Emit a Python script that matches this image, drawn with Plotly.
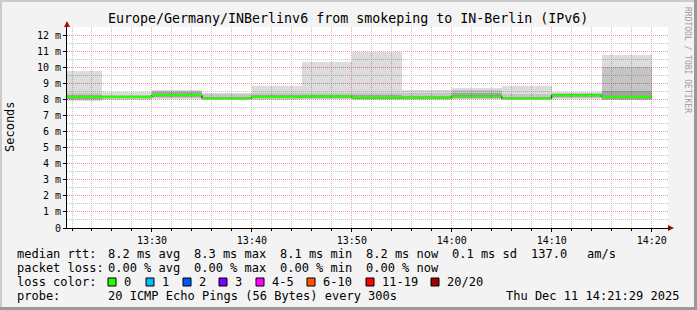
import plotly.graph_objects as go
import pandas as pd

# ---------------- data (milliseconds) ----------------
block_start = ["2025-12-11 13:20:00", "2025-12-11 13:25:00", "2025-12-11 13:30:00",
               "2025-12-11 13:35:00", "2025-12-11 13:40:00", "2025-12-11 13:45:00",
               "2025-12-11 13:50:00", "2025-12-11 13:55:00", "2025-12-11 14:00:00",
               "2025-12-11 14:05:00", "2025-12-11 14:10:00", "2025-12-11 14:15:00"]
step_seconds = 300
median_ms = [8.18, 8.18, 8.29, 8.08, 8.18, 8.21, 8.13, 8.14, 8.22, 8.08, 8.28, 8.18]
ping_max = [9.78, 8.50, 8.60, 8.42, 8.83, 10.34, 10.96, 8.60, 8.73, 8.83, 8.48, 10.82]
ping_min = [7.95, 8.00, 8.05, 8.00, 8.00, 8.02, 8.00, 8.00, 8.02, 8.00, 8.02, 7.98]
mid_hi = [8.45, 8.30, 8.55, 8.33, 8.40, 8.40, 8.40, 8.42, 8.58, 8.38, 8.40, 10.07]
mid_lo = [8.00, 8.05, 8.10, 8.02, 8.02, 8.05, 8.02, 8.02, 8.05, 8.02, 8.08, 8.00]
inner_hi = [8.30, 8.25, 8.50, 8.20, 8.28, 8.30, 8.30, 8.25, 8.45, 8.20, 8.35, 8.54]
inner_lo = [8.05, 8.10, 8.15, 8.03, 8.08, 8.10, 8.05, 8.05, 8.10, 8.03, 8.15, 8.05]

y_tick_vals = [0, 1, 2, 3, 4, 5, 6, 7, 8, 9, 10, 11, 12]
y_tick_text = ["0", "1 m", "2 m", "3 m", "4 m", "5 m", "6 m", "7 m", "8 m", "9 m", "10 m", "11 m", "12 m"]
x_range = ["2025-12-11 13:21:30", "2025-12-11 14:21:38"]
y_range = [0, 12.54]

title = "Europe/Germany/INBerlinv6 from smokeping to IN-Berlin (IPv6)"
rtt_label = "median rtt:"
rtt_values = ["8.2 ms avg", "8.3 ms max", "8.1 ms min", "8.2 ms now", "0.1 ms sd", "137.0", "am/s"]
loss_label = "packet loss:"
loss_values = ["0.00 % avg", "0.00 % max", "0.00 % min", "0.00 % now"]
color_label = "loss color:"
loss_names = ["0", "1", "2", "3", "4-5", "6-10", "11-19", "20/20"]
loss_colors = ["#26ff00", "#00b8ff", "#0059ff", "#7e00ff", "#ff00ff", "#ff5500", "#ff0000", "#a10000"]
probe_label = "probe:"
probe_text = "20 ICMP Echo Pings (56 Bytes) every 300s"
stamp_text = "Thu Dec 11 14:21:29 2025"
watermark = "RRDTOOL / TOBI OETIKER"

# ---------------- geometry helpers ----------------
W, H = 697, 310
L, R, T, B = 67, 668, 27, 228


def px(x):
    return (x - L) / (R - L)


def py(y):
    return (B - y) / (B - T)


starts = pd.to_datetime(block_start)
step = pd.Timedelta(seconds=step_seconds)
ends = starts + step
centers = starts + step / 2
width_ms = step_seconds * 1000

fig = go.Figure()

# smoke bands (semi-transparent so the dotted grid shows through, like rrdtool)
for lo, hi, col in [(ping_min, ping_max, "rgba(0,0,0,0.137)"),
                    (mid_lo, mid_hi, "rgba(0,0,0,0.10)"),
                    (inner_lo, inner_hi, "rgba(0,0,0,0.17)")]:
    fig.add_trace(go.Bar(x=centers, y=[h - l for h, l in zip(hi, lo)], base=lo,
                         width=[width_ms] * len(lo), marker=dict(color=col, line=dict(width=0)),
                         hoverinfo="skip"))

# black step median line
fig.add_trace(go.Scatter(x=list(starts) + [ends[-1]], y=median_ms + [median_ms[-1]],
                         mode="lines", line=dict(color="#000000", width=1, shape="hv"),
                         hoverinfo="skip"))
# green median segments (loss colour)
gx, gy = [], []
for s, e, m in zip(starts, ends, median_ms):
    gx += [s, e, None]
    gy += [m, m, None]
fig.add_trace(go.Scatter(x=gx, y=gy, mode="lines", line=dict(color=loss_colors[0], width=2.2),
                         hoverinfo="skip"))

grid_minor = "rgba(180,180,180,0.8)"
grid_major = "rgba(230,140,140,0.8)"

fig.update_xaxes(range=x_range, type="date", tickformat="%H:%M",
                 tick0="2025-12-11 13:00:00", dtick=600000,
                 showgrid=True, gridcolor=grid_major, griddash="1px,1px", gridwidth=1,
                 minor=dict(dtick=120000, tick0="2025-12-11 13:00:00", showgrid=True,
                            gridcolor=grid_minor, griddash="1px,1px", ticks="outside",
                            ticklen=2, tickcolor="#000000"),
                 showline=True, linecolor="#000000", linewidth=1,
                 ticks="outside", ticklen=3, tickcolor="#000000",
                 tickfont=dict(family="DejaVu Sans Mono", size=10, color="#000000"),
                 zeroline=False, layer="above traces")
fig.update_yaxes(range=y_range, tickvals=y_tick_vals, ticktext=y_tick_text,
                 showgrid=True, gridcolor=grid_major, griddash="1px,1px", gridwidth=1,
                 minor=dict(dtick=0.5, tick0=0, showgrid=True, gridcolor=grid_minor,
                            griddash="1px,1px"),
                 showline=True, linecolor="#000000", linewidth=1,
                 ticks="outside", ticklen=3, tickcolor="#000000",
                 tickfont=dict(family="DejaVu Sans Mono", size=10, color="#000000"),
                 zeroline=False, layer="above traces")

mono = "DejaVu Sans Mono"
ann = []


def text(x, y, s, size=12, xanchor="left", color="#000000", angle=0):
    ann.append(dict(x=px(x), y=py(y), xref="paper", yref="paper", text=s, showarrow=False,
                    xanchor=xanchor, yanchor="middle", textangle=angle,
                    font=dict(family=mono, size=size, color=color), borderpad=0))


text(348, 19, title, size=13.3, xanchor="center")
text(10, 127, "Seconds", size=12, xanchor="center", angle=-90)
text(688, 60, watermark, size=8, xanchor="center", color="#a0a0a0", angle=90)

col_x = [107, 193, 279, 365, 451, 530, 586]
text(16, 254, rtt_label)
for xv, s in zip(col_x, rtt_values):
    text(xv, 254, s)
text(16, 268, loss_label)
for xv, s in zip(col_x, loss_values):
    text(xv, 268, s)
text(16, 282, color_label)
sq_x = [108, 146, 183, 219, 256, 307, 366, 431]
shapes = []
for xv, name, col in zip(sq_x, loss_names, loss_colors):
    shapes.append(dict(type="rect", xref="paper", yref="paper",
                       x0=px(xv), x1=px(xv + 8), y0=py(286), y1=py(278),
                       fillcolor=col, line=dict(color="#000000", width=1)))
    text(xv + 15, 282, name)
text(16, 296, probe_label)
text(107, 296, probe_text)
text(680, 296, stamp_text, xanchor="right")

# axis arrows
arrow_col = "#a01010"
shapes.append(dict(type="path", xref="paper", yref="paper",
                   path=f"M {px(64)},{py(27)} L {px(70)},{py(27)} L {px(67)},{py(21)} Z",
                   fillcolor=arrow_col, line=dict(width=0)))
shapes.append(dict(type="path", xref="paper", yref="paper",
                   path=f"M {px(668)},{py(225)} L {px(668)},{py(231)} L {px(674)},{py(228)} Z",
                   fillcolor=arrow_col, line=dict(width=0)))
shapes.append(dict(type="line", xref="paper", yref="paper", x0=px(R), x1=px(670),
                   y0=py(228), y1=py(228), line=dict(color="#000000", width=1)))

# 3D frame
shapes.append(dict(type="rect", xref="paper", yref="paper", x0=px(0), x1=px(2), y0=py(310), y1=py(0),
                   fillcolor="#cbcbcb", line=dict(width=0), layer="below"))
shapes.append(dict(type="rect", xref="paper", yref="paper", x0=px(0), x1=px(697), y0=py(2), y1=py(0),
                   fillcolor="#cbcbcb", line=dict(width=0), layer="below"))
shapes.append(dict(type="rect", xref="paper", yref="paper", x0=px(694), x1=px(697), y0=py(310), y1=py(0),
                   fillcolor="#999999", line=dict(width=0), layer="below"))
shapes.append(dict(type="rect", xref="paper", yref="paper", x0=px(0), x1=px(697), y0=py(310), y1=py(307),
                   fillcolor="#999999", line=dict(width=0), layer="below"))

fig.update_layout(width=W, height=H, margin=dict(l=L, r=W - R, t=T, b=H - B, pad=0),
                  paper_bgcolor="#f3f3f3", plot_bgcolor="#ffffff",
                  barmode="overlay", bargap=0, showlegend=False,
                  font=dict(family=mono, size=10, color="#000000"),
                  annotations=ann, shapes=shapes)

fig.write_html("out.html")
